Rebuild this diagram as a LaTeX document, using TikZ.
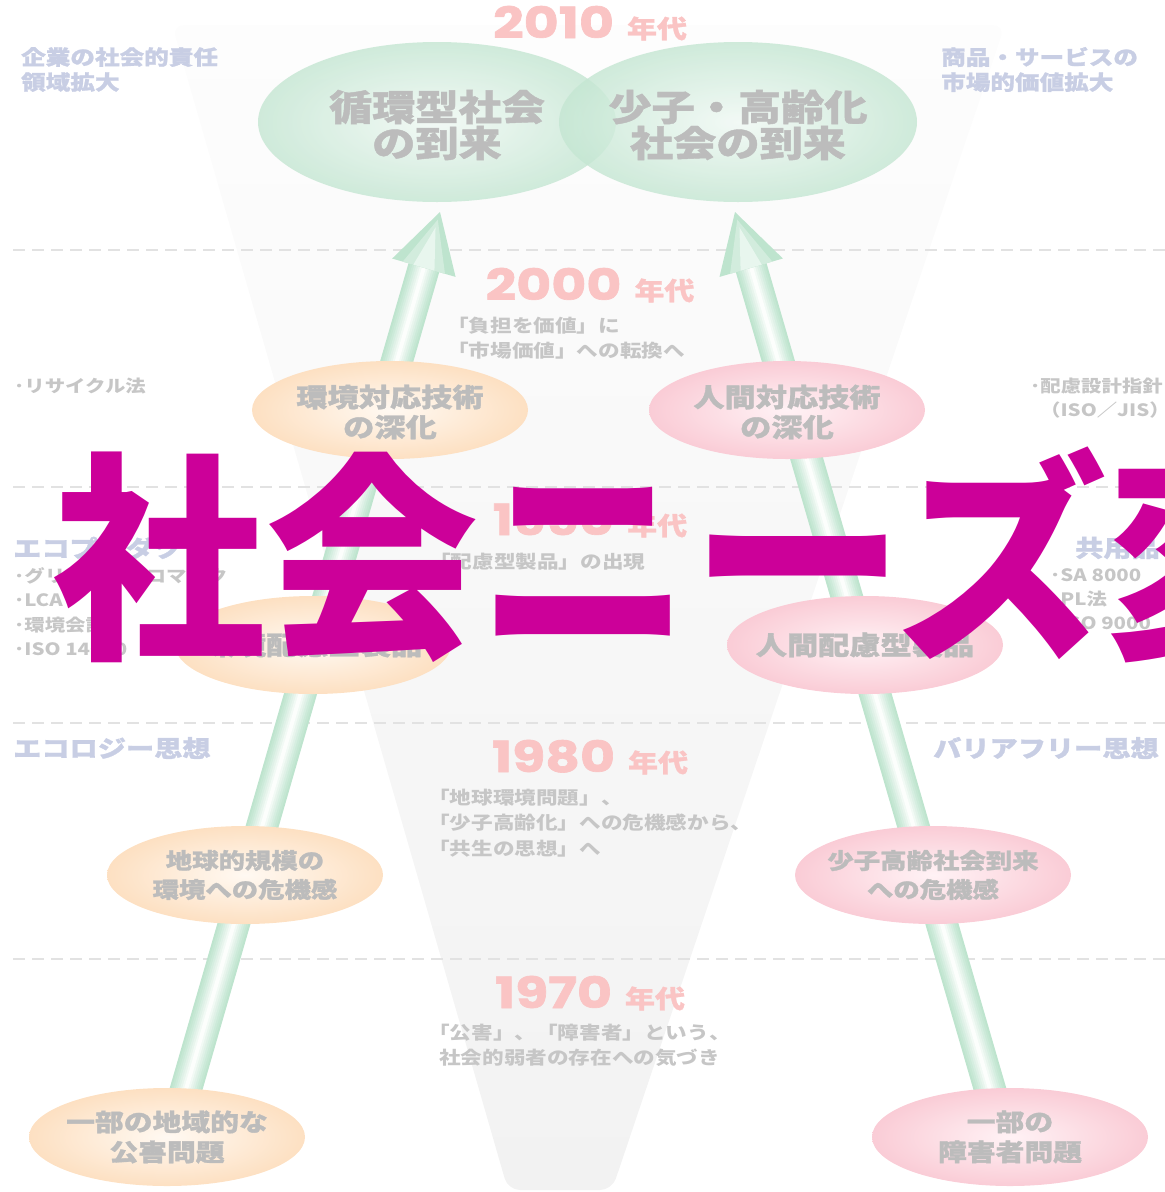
\documentclass[tikz,border=0pt]{standalone}
\usepackage{fontspec}
\usetikzlibrary{shapes.geometric,calc}
\newfontfamily\jp{Noto Sans CJK JP}
\newfontfamily\jpt{Noto Sans CJK JP}[FakeStretch=0.96]
\newfontfamily\jpx{Noto Sans CJK JP}[FakeStretch=1.2]
\newfontfamily\jph{Noto Sans CJK JP}[FakeStretch=1.2,FakeBold=1.2]
\newfontfamily\digitfont{Poppins}[FakeStretch=1.25,FakeBold=1.5]
\newcommand\myfs[2]{\fontsize{#1}{#2}\selectfont}
\definecolor{pinklab}{RGB}{250,196,196}
\definecolor{elltext}{RGB}{188,188,188}
\definecolor{desc}{RGB}{198,198,198}
\definecolor{bluelab}{RGB}{200,206,228}
\definecolor{grnout}{RGB}{196,230,210}
\definecolor{grnin}{RGB}{240,249,244}
\definecolor{orgout}{RGB}{253,224,194}
\definecolor{orgin}{RGB}{255,249,242}
\definecolor{pnkout}{RGB}{250,204,214}
\definecolor{pnkin}{RGB}{255,242,245}
\definecolor{barA}{RGB}{190,228,206}
\definecolor{magtitle}{RGB}{204,0,153}
\definecolor{dashc}{RGB}{226,226,226}
\definecolor{funtop}{RGB}{253,253,253}
\definecolor{funbot}{RGB}{242,242,242}
\tikzset{
  ell/.style={ellipse, inner sep=0pt, draw=none},
  grn/.style={ell, inner color=grnin, outer color=grnout, minimum width=358pt, minimum height=160pt, fill opacity=0.8},
  org/.style={ell, inner color=orgin, outer color=orgout, minimum width=276pt, minimum height=98pt},
  pnk/.style={ell, inner color=pnkin, outer color=pnkout, minimum width=276pt, minimum height=98pt},
  etext/.style={text=elltext, align=center, inner sep=0pt},
  decade/.style={text=pinklab, anchor=base, inner sep=0pt},
  desctext/.style={text=desc, align=left, anchor=west, inner sep=0pt, font=\jpx\bfseries\myfs{18}{25.5}},
  sidelab/.style={text=bluelab, align=left, anchor=west, inner sep=0pt},
  listtext/.style={text=desc, align=left, anchor=west, inner sep=0pt, font=\jpx\bfseries\myfs{17}{24.3}},
  dashline/.style={draw=dashc, line width=1.6pt, dash pattern=on 12pt off 7pt},
}
\begin{document}
\begin{tikzpicture}[x=1pt,y=-1pt]
\useasboundingbox (0,0) rectangle (1165,1192);
\clip (0,0) rectangle (1165,1192);
% funnel background
\shade[top color=funtop, bottom color=funbot, rounded corners=12pt] (172,25) -- (1005,25) -- (612,1190) -- (508,1190) -- cycle;
% dashed separators
\foreach \yy in {250,487,723,959} \draw[dashline] (13,\yy) -- (1165,\yy);
% top ellipses
\node[grn] (eL4) at (437,122) {};
\node[grn] (eR4) at (738,122) {};
% bars with arrowheads
\coordinate (Lfoot) at (180,1110);
\coordinate (Ltip) at (440,212);
\coordinate (Rfoot) at (996,1110);
\coordinate (Rtip) at (735,212);
\foreach \s in {L,R}{
  \coordinate (\s base) at ($(\s tip)!58pt!(\s foot)$);
  \foreach \w/\p in {32/100,28/90,24/78,20/64,16/50,12/36,8/20,4/5}
    \draw[line width=\w pt, barA!\p!white] (\s foot) -- (\s base);
  \fill[barA] (\s tip) -- ($(\s base)!33pt!90:(\s tip)$) -- ($(\s base)!33pt!-90:(\s tip)$) -- cycle;
  \fill[barA!70!white] ($(\s tip)!8pt!(\s base)$) -- ($(\s base)!22pt!90:(\s tip)$) -- ($(\s base)!22pt!-90:(\s tip)$) -- cycle;
  \fill[barA!35!white] ($(\s tip)!16pt!(\s base)$) -- ($(\s base)!11pt!90:(\s tip)$) -- ($(\s base)!11pt!-90:(\s tip)$) -- cycle;
}
% ellipses over bars
\node[org] (eL3) at (390,410) {};
\node[pnk] (eR3) at (787,410) {};
\node[org] (eL2) at (313,645) {};
\node[pnk] (eR2) at (865,645) {};
\node[org] (eL1) at (245,875) {};
\node[pnk] (eR1) at (933,875) {};
\node[org] (eL0) at (167,1137) {};
\node[pnk] (eR0) at (1010,1137) {};
% ellipse texts
\node[etext, font=\jph\bfseries\myfs{36}{36}] (tL4) at ($(eL4)+(0,3)$) {循環型社会\\の到来};
\node[etext, font=\jph\bfseries\myfs{36}{36}] (tR4) at ($(eR4)+(0,3)$) {少子・高齢化\\社会の到来};
\node[etext, font=\jph\bfseries\myfs{26}{30}] (tL3) at ($(eL3)+(0,2)$) {環境対応技術\\の深化};
\node[etext, font=\jph\bfseries\myfs{26}{30}] (tR3) at ($(eR3)+(0,2)$) {人間対応技術\\の深化};
\node[etext, font=\jph\bfseries\myfs{26}{30}] (tL2) at (eL2) {環境配慮型製品};
\node[etext, font=\jph\bfseries\myfs{26}{30}] (tR2) at (eR2) {人間配慮型製品};
\node[etext, font=\jph\bfseries\myfs{22}{29}] (tL1) at (eL1) {地球的規模の\\環境への危機感};
\node[etext, font=\jph\bfseries\myfs{22}{29}] (tR1) at (eR1) {少子高齢社会到来\\への危機感};
\node[etext, font=\jph\bfseries\myfs{24}{30}] (tL0) at (eL0) {一部の地域的な\\公害問題};
\node[etext, font=\jph\bfseries\myfs{24}{30}] (tR0) at (eR0) {一部の\\障害者問題};
% decade labels
\node[decade] (d2010) at (590,38) {\digitfont\bfseries\myfs{43}{43}2010\hspace{13pt}\jph\bfseries\myfs{25}{25}年代};
\node[decade] (d2000) at (590,300) {\digitfont\bfseries\myfs{43}{43}2000\hspace{13pt}\jph\bfseries\myfs{25}{25}年代};
\node[decade] (d1990) at (590,535) {\digitfont\bfseries\myfs{43}{43}1990\hspace{13pt}\jph\bfseries\myfs{25}{25}年代};
\node[decade] (d1980) at (590,772) {\digitfont\bfseries\myfs{43}{43}1980\hspace{13pt}\jph\bfseries\myfs{25}{25}年代};
\node[decade] (d1970) at (590,1008) {\digitfont\bfseries\myfs{43}{43}1970\hspace{13pt}\jph\bfseries\myfs{25}{25}年代};
% decade descriptions
\node[desctext] (s2000) at (447,338) {「負担を価値」に\\「市場価値」への転換へ};
\node[desctext] (s1990) at (429,562) {「配慮型製品」の出現};
\node[desctext] (s1980) at (428,823) {「地球環境問題」、\\「少子高齢化」への危機感から、\\「共生の思想」へ};
\node[desctext] (s1970) at (428,1045.5) {「公害」、「障害者」という、\\\hspace{11pt}社会的弱者の存在への気づき};
% side labels
\node[sidelab, font=\jph\bfseries\myfs{20.5}{25}] (csr) at (21,69.5) {企業の社会的責任\\領域拡大};
\node[sidelab, font=\jph\bfseries\myfs{20.5}{25}] (mkt) at (941,69.5) {商品・サービスの\\市場的価値拡大};
\node[sidelab, font=\jph\bfseries\myfs{23.5}{25}] (ecop) at (13,548) {エコプロダクツ};
\node[sidelab, font=\jph\bfseries\myfs{23.5}{25}] (kyo) at (1075,548) {共用品};
\node[sidelab, font=\jph\bfseries\myfs{23.5}{25}] (ecol) at (13,748) {エコロジー思想};
\node[sidelab, font=\jph\bfseries\myfs{23.5}{25}] (bfree) at (933,748) {バリアフリー思想};
% lists
\node[listtext] (recy) at (14,386) {･リサイクル法};
\node[listtext] (hairyo) at (1030,398) {･配慮設計指針\\\hspace{10pt}（ISO／JIS）};
\node[listtext] (llist) at (14,611.5) {･グリーン・エコマーク\\･LCA\\･環境会計\\･ISO 14000};
\node[listtext] (rlist) at (1050,599) {･SA 8000\\･PL法\\･ISO 9000};
% overlay title
\node[anchor=base west, inner sep=0pt, text=magtitle, font=\jpt\bfseries\myfs{222}{222}] (title) at (52,641) {社会ニーズ変遷};
\end{tikzpicture}
\end{document}
